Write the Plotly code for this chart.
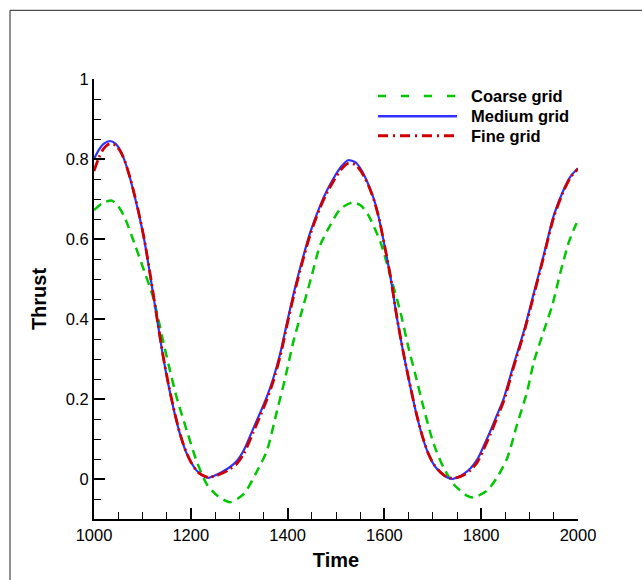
import plotly.graph_objects as go

# ---------------- data ----------------
t_medium = [1000, 1010, 1020, 1033, 1045, 1055, 1065, 1075, 1085, 1095, 1105, 1116, 1130, 1143,
            1155, 1167, 1178, 1190, 1200, 1210, 1220, 1236, 1254, 1268, 1281, 1295, 1310, 1329,
            1345, 1357, 1370, 1385, 1399, 1413, 1426, 1447, 1467, 1482, 1495, 1510, 1525, 1540,
            1550, 1560, 1570, 1580, 1590, 1600, 1612, 1626, 1640, 1654, 1666, 1678, 1691, 1703,
            1716, 1728, 1740, 1752, 1764, 1778, 1792, 1805, 1819, 1833, 1847, 1867, 1888, 1909,
            1929, 1950, 1971, 1985, 2000]
v_medium = [0.800, 0.823, 0.838, 0.845, 0.838, 0.820, 0.790, 0.750, 0.702, 0.650, 0.590, 0.510,
            0.402, 0.304, 0.228, 0.162, 0.111, 0.068, 0.043, 0.024, 0.012, 0.003, 0.011, 0.020,
            0.030, 0.045, 0.073, 0.126, 0.170, 0.205, 0.250, 0.315, 0.392, 0.466, 0.528, 0.617,
            0.683, 0.723, 0.752, 0.780, 0.797, 0.792, 0.777, 0.755, 0.727, 0.693, 0.645, 0.585,
            0.509, 0.402, 0.310, 0.228, 0.163, 0.108, 0.062, 0.034, 0.016, 0.005, 0.000, 0.005,
            0.013, 0.027, 0.049, 0.082, 0.120, 0.161, 0.203, 0.286, 0.369, 0.466, 0.559, 0.659,
            0.725, 0.757, 0.777]

t_fine = [1000, 1010, 1020, 1032, 1045, 1055, 1065, 1075, 1085, 1095, 1105, 1116, 1130, 1143,
          1155, 1167, 1178, 1190, 1200, 1210, 1220, 1236, 1254, 1268, 1281, 1295, 1310, 1329,
          1345, 1357, 1370, 1385, 1399, 1413, 1426, 1447, 1467, 1482, 1495, 1510, 1525, 1540,
          1550, 1560, 1570, 1580, 1590, 1600, 1612, 1626, 1640, 1654, 1666, 1678, 1691, 1703,
          1716, 1728, 1740, 1752, 1764, 1778, 1792, 1805, 1819, 1833, 1847, 1867, 1888, 1909,
          1929, 1950, 1971, 1985, 2000]
v_fine = [0.770, 0.803, 0.826, 0.838, 0.834, 0.818, 0.790, 0.751, 0.704, 0.652, 0.592, 0.512,
          0.404, 0.306, 0.230, 0.164, 0.112, 0.069, 0.043, 0.024, 0.012, 0.004, 0.009, 0.016,
          0.025, 0.038, 0.064, 0.117, 0.162, 0.198, 0.243, 0.308, 0.386, 0.460, 0.522, 0.612,
          0.678, 0.717, 0.745, 0.773, 0.789, 0.786, 0.772, 0.752, 0.725, 0.692, 0.645, 0.586,
          0.510, 0.403, 0.311, 0.229, 0.164, 0.109, 0.063, 0.035, 0.017, 0.006, 0.002, 0.004,
          0.010, 0.022, 0.042, 0.074, 0.112, 0.154, 0.196, 0.280, 0.364, 0.461, 0.555, 0.655,
          0.722, 0.755, 0.775]

t_coarse = [1000, 1018, 1037, 1050, 1064, 1085, 1102, 1123, 1140, 1154, 1171, 1192, 1212, 1233,
            1255, 1281, 1309, 1337, 1357, 1378, 1395, 1412, 1433, 1450, 1467, 1488, 1509, 1536,
            1552, 1567, 1592, 1612, 1633, 1650, 1664, 1681, 1702, 1722, 1743, 1771, 1784, 1812,
            1833, 1854, 1874, 1895, 1909, 1929, 1947, 1964, 1981, 1995, 2000]
v_coarse = [0.672, 0.690, 0.696, 0.682, 0.652, 0.584, 0.526, 0.451, 0.360, 0.286, 0.203, 0.120,
            0.045, -0.013, -0.042, -0.058, -0.038, 0.020, 0.070, 0.170, 0.252, 0.344, 0.435,
            0.509, 0.584, 0.634, 0.675, 0.692, 0.683, 0.659, 0.592, 0.509, 0.418, 0.327, 0.261,
            0.178, 0.087, 0.029, -0.013, -0.042, -0.046, -0.029, 0.004, 0.053, 0.136, 0.219,
            0.294, 0.369, 0.435, 0.518, 0.592, 0.634, 0.645]

series_names = ["Coarse grid", "Medium grid", "Fine grid"]
x_tick_vals = [1000, 1200, 1400, 1600, 1800, 2000]
x_tick_text = ["1000", "1200", "1400", "1600", "1800", "2000"]
y_tick_vals = [0, 0.2, 0.4, 0.6, 0.8, 1]
y_tick_text = ["0", "0.2", "0.4", "0.6", "0.8", "1"]

# ---------------- styling ----------------
W, H = 642, 580
L, R, T, B = 94, 64, 79, 59
PW, PH = W - L - R, H - T - B

GREEN = "#00c800"
BLUE = "#3232ff"
RED = "#d00000"
FONT = "Liberation Sans, Arial, sans-serif"
SMOOTH = 0.7


def px_x(p):
    return (p - L) / PW


def px_y(p):
    return (H - B - p) / PH


fig = go.Figure()
fig.add_trace(go.Scatter(x=t_coarse, y=v_coarse, mode="lines", name=series_names[0],
                         line=dict(color=GREEN, width=2.5, dash="9px,6px", shape="spline",
                                   smoothing=SMOOTH)))
fig.add_trace(go.Scatter(x=t_medium, y=v_medium, mode="lines", name=series_names[1],
                         line=dict(color=BLUE, width=2.2, shape="spline", smoothing=SMOOTH)))
fig.add_trace(go.Scatter(x=t_fine, y=v_fine, mode="lines", name=series_names[2],
                         line=dict(color=RED, width=2.8, dash="11px,4px,2px,4px",
                                   shape="spline", smoothing=SMOOTH)))

axis_common = dict(
    showline=True, linecolor="black", linewidth=2, mirror=False,
    showgrid=False, zeroline=False,
    ticks="inside", ticklen=11, tickwidth=2, tickcolor="black",
    tickfont=dict(family=FONT, size=16.5, color="black"),
)

fig.update_xaxes(
    range=[1000, 2000], tickmode="array", tickvals=x_tick_vals, ticktext=x_tick_text,
    minor=dict(dtick=50, ticks="inside", ticklen=7, tickwidth=1, tickcolor="black",
               showgrid=False),
    title=dict(text="Time", font=dict(family=FONT, size=20, color="black", weight="bold"),
               standoff=10),
    **axis_common,
)
fig.update_yaxes(
    range=[-0.1, 1.0], tickmode="array", tickvals=y_tick_vals, ticktext=y_tick_text,
    minor=dict(dtick=0.05, tick0=0, ticks="inside", ticklen=7, tickwidth=1,
               tickcolor="black", showgrid=False),
    title=dict(text="Thrust", font=dict(family=FONT, size=20, color="black", weight="bold"),
               standoff=14),
    **axis_common,
)

# frame around the picture (left and top edges visible)
shapes = [
    dict(type="line", xref="paper", yref="paper", x0=px_x(10), x1=px_x(W + 5),
         y0=px_y(10), y1=px_y(10), line=dict(color="#222222", width=1)),
    dict(type="line", xref="paper", yref="paper", x0=px_x(10), x1=px_x(10),
         y0=px_y(10), y1=px_y(H + 5), line=dict(color="#222222", width=1)),
]

# custom legend (long line samples as in the reference)
legend_rows = [
    (96, GREEN, 2.5, "8px,15px"),
    (116.3, BLUE, 2.5, "solid"),
    (136, RED, 2.8, "10px,5px,2px,5px"),
]
annotations = []
for (py, col, w, dash), name in zip(legend_rows, series_names):
    shapes.append(dict(type="line", xref="paper", yref="paper",
                       x0=px_x(378), x1=px_x(457), y0=px_y(py), y1=px_y(py),
                       line=dict(color=col, width=w, dash=dash)))
    annotations.append(dict(xref="paper", yref="paper", x=px_x(469), y=px_y(py),
                            xanchor="left", yanchor="middle", text=name, showarrow=False,
                            font=dict(family=FONT, size=16.5, color="black", weight="bold")))

fig.update_layout(
    width=W, height=H,
    margin=dict(l=L, r=R, t=T, b=B, pad=0),
    paper_bgcolor="white", plot_bgcolor="white",
    showlegend=False,
    shapes=shapes,
    annotations=annotations,
    font=dict(family=FONT, color="black"),
)

fig.write_html("out.html",
               config={"displayModeBar": False},
               post_script="document.body.style.margin='0px';"
                           "document.body.style.overflow='hidden';")
